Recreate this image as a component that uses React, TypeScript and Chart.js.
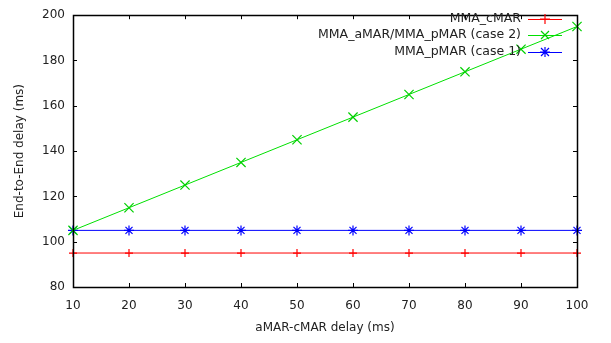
import React, { useEffect, useRef } from "react";
import { Chart, registerables } from "chart.js";

Chart.register(...registerables);

const xValues = [10, 20, 30, 40, 50, 60, 70, 80, 90, 100];
const cMAR = [95, 95, 95, 95, 95, 95, 95, 95, 95, 95];
const case2 = [105, 115, 125, 135, 145, 155, 165, 175, 185, 195];
const case1 = [105, 105, 105, 105, 105, 105, 105, 105, 105, 105];
const seriesNames = ["MMA_cMAR", "MMA_aMAR/MMA_pMAR (case 2)", "MMA_pMAR (case 1)"];
const xTitle = "aMAR-cMAR delay (ms)";
const yTitle = "End-to-End delay (ms)";

const FONT = "DejaVu Sans";

const framePlugin = {
  id: "gnuframe",
  afterDatasetsDraw(chart: any) {
    const { ctx, chartArea: a, scales } = chart;
    const xs = scales.x;
    const ys = scales.y;
    ctx.save();
    ctx.strokeStyle = "#000";
    ctx.lineWidth = 1;
    ctx.beginPath();
    xs.ticks.forEach((t: any) => {
      const px = Math.round(xs.getPixelForValue(t.value)) + 0.5;
      ctx.moveTo(px, a.bottom);
      ctx.lineTo(px, a.bottom - 4);
      ctx.moveTo(px, a.top);
      ctx.lineTo(px, a.top + 4);
    });
    ys.ticks.forEach((t: any) => {
      const py = Math.round(ys.getPixelForValue(t.value)) + 0.5;
      ctx.moveTo(a.left, py);
      ctx.lineTo(a.left + 4, py);
      ctx.moveTo(a.right, py);
      ctx.lineTo(a.right - 4, py);
    });
    ctx.stroke();
    ctx.lineWidth = 1.5;
    ctx.strokeRect(Math.round(a.left) + 0.5, Math.round(a.top) + 0.5, Math.round(a.right - a.left), Math.round(a.bottom - a.top));
    ctx.fillStyle = "#222";
    ctx.font = `12px "${FONT}"`;
    ctx.textAlign = "center";
    ctx.textBaseline = "middle";
    ctx.fillText(xTitle, (a.left + a.right) / 2, 328);
    ctx.save();
    ctx.translate(20, (a.top + a.bottom) / 2);
    ctx.rotate(-Math.PI / 2);
    ctx.fillText(yTitle, 0, 0);
    ctx.restore();
    const rows = [19, 35, 52];
    ctx.font = `12.5px "${FONT}"`;
    chart.data.datasets.forEach((ds: any, i: number) => {
      const y = rows[i];
      ctx.fillStyle = "#222";
      ctx.textAlign = "right";
      ctx.textBaseline = "middle";
      ctx.fillText(seriesNames[i], 521, y);
      ctx.strokeStyle = ds.borderColor;
      ctx.lineWidth = 1;
      ctx.beginPath();
      ctx.moveTo(528, y + 0.5);
      ctx.lineTo(562, y + 0.5);
      ctx.stroke();
      ctx.strokeStyle = ds.pointBorderColor || ds.borderColor;
      ctx.lineWidth = 1.2;
      const cx = 545;
      const r = 5;
      ctx.beginPath();
      if (ds.pointStyle === "cross" || ds.pointStyle === "star") {
        ctx.moveTo(cx - r, y);
        ctx.lineTo(cx + r, y);
        ctx.moveTo(cx, y - r);
        ctx.lineTo(cx, y + r);
      }
      if (ds.pointStyle === "crossRot" || ds.pointStyle === "star") {
        const d = r * 0.8;
        ctx.moveTo(cx - d, y - d);
        ctx.lineTo(cx + d, y + d);
        ctx.moveTo(cx - d, y + d);
        ctx.lineTo(cx + d, y - d);
      }
      ctx.stroke();
    });
    ctx.restore();
  },
};

export default function App() {
  const ref = useRef<HTMLCanvasElement>(null);
  useEffect(() => {
    document.body.style.margin = "0";
    const mk = (v: number[]) => xValues.map((x, i) => ({ x, y: v[i] }));
    const chart = new Chart(ref.current as HTMLCanvasElement, {
      type: "line",
      data: {
        datasets: [
          { label: seriesNames[0], data: mk(cMAR), borderColor: "#ff0000", pointBorderColor: "#ff0000", pointStyle: "cross", pointRadius: 4, borderWidth: 1, pointBorderWidth: 1.2, clip: false },
          { label: seriesNames[1], data: mk(case2), borderColor: "#00e000", pointBorderColor: "#00d000", pointStyle: "crossRot", pointRadius: 6.5, borderWidth: 1, pointBorderWidth: 1.2, clip: false },
          { label: seriesNames[2], data: mk(case1), borderColor: "#0000ff", pointBorderColor: "#0000ff", pointStyle: "star", pointRadius: 5, borderWidth: 1, pointBorderWidth: 1.2, clip: false },
        ] as any,
      },
      options: {
        animation: false,
        responsive: false,
        layout: { padding: { top: 8, right: 34, left: 0, bottom: 0 } },
        plugins: { legend: { display: false }, tooltip: { enabled: false } },
        scales: {
          x: {
            type: "linear",
            min: 10,
            max: 100,
            grid: { display: false, drawTicks: false },
            border: { display: false },
            ticks: { stepSize: 10, color: "#222", font: { family: FONT, size: 12 }, padding: 12 },
            afterFit: (s: any) => { s.height = 56; },
          },
          y: {
            type: "linear",
            min: 80,
            max: 200,
            grid: { display: false, drawTicks: false },
            border: { display: false },
            ticks: { stepSize: 20, color: "#222", font: { family: FONT, size: 12 }, padding: 8 },
            afterFit: (s: any) => { s.width = 73; },
          },
        },
      } as any,
      plugins: [framePlugin],
    });
    return () => chart.destroy();
  }, []);
  return (
    <div style={{ width: 611, height: 343 }}>
      <canvas ref={ref} width={611} height={343} style={{ display: "block" }} />
    </div>
  );
}
